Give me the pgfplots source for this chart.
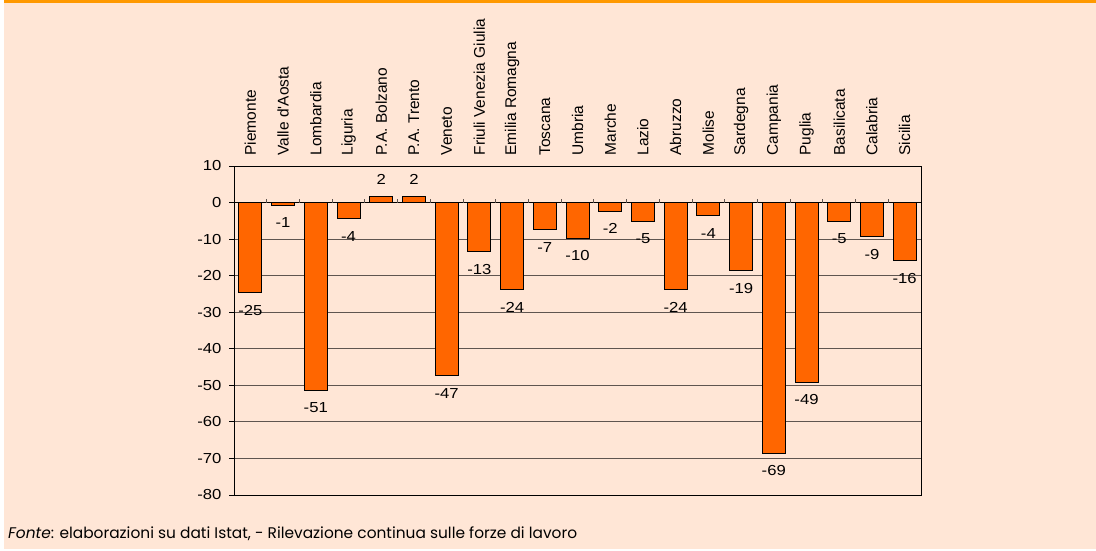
\documentclass[border=0pt]{standalone}
\usepackage{pgfplots}
\pgfplotsset{compat=1.18}
\usepackage{pgfplotstable}
\usepackage{fontspec}
\setmainfont{Liberation Sans}
\newfontfamily\numfont[FakeStretch=1.15]{Liberation Sans}
\newfontfamily\footfont{Poppins}

\definecolor{bgpeach}{RGB}{255,230,214}
\definecolor{barorange}{RGB}{255,102,0}
\definecolor{topband}{RGB}{255,153,0}
\definecolor{gridgray}{RGB}{95,85,80}

% bar heights (labels on the chart are these rounded to units)
\pgfplotstableread{
idx value
0  -24.6
1  -0.8
2  -51.3
3  -4.4
4   1.6
5   1.6
6  -47.4
7  -13.4
8  -23.9
9  -7.4
10 -9.8
11 -2.4
12 -5.2
13 -23.9
14 -3.6
15 -18.7
16 -68.6
17 -49.2
18 -5.2
19 -9.3
20 -15.9
}\regioni

\begin{document}
\begin{tikzpicture}
    \useasboundingbox (0,0) rectangle (1096pt,551pt);
    \fill[white] (0,0) rectangle (1096pt,551pt);
    \fill[bgpeach] (4pt,2pt) rectangle (1096pt,551pt);
    \fill[topband] (4pt,548pt) rectangle (1096pt,551pt);

    \begin{axis}[
        at={(234pt,56pt)}, anchor=south west,
        scale only axis,
        width=687pt, height=329pt,
        ybar, bar width=23pt,
        xmin=-0.5, xmax=20.5,
        ymin=-80, ymax=10,
        xtick=data,
        xticklabels={Piemonte, Valle d\textquotesingle Aosta, Lombardia, Liguria, P.A. Bolzano, P.A. Trento, Veneto, Friuli Venezia Giulia, Emilia Romagna, Toscana, Umbria, Marche, Lazio, Abruzzo, Molise, Sardegna, Campania, Puglia, Basilicata, Calabria, Sicilia},
        xticklabel pos=upper,
        xticklabel shift=2pt,
        xticklabel style={rotate=90, anchor=west, font=\fontsize{15.5}{16}\selectfont},
        xtick style={draw=none},
        ytick={-80,-70,...,10},
        yticklabels={-80,-70,-60,-50,-40,-30,-20,-10,0,10},
        yticklabel style={font=\numfont\fontsize{14.5}{15}\selectfont, xshift=-4pt},
        ytick pos=left,
        tick align=outside,
        major tick length=5pt,
        ytick style={black, line width=0.8pt},
        ymajorgrids,
        grid style={gridgray, line width=0.8pt},
        axis line style={black, line width=0.9pt},
    ]
        % zero line with category separators
        \draw[black, line width=1pt] (axis cs:-0.5,0) -- (axis cs:20.5,0);
        \pgfplotsinvokeforeach{0,...,19}{
            \draw[gridgray, line width=0.8pt] (axis cs:#1+0.5,0) -- ++(0pt,4pt);
        }
        \addplot[fill=barorange, draw=black, line width=0.9pt,
            point meta=y,
            nodes near coords={\pgfmathprintnumber[fixed, precision=0, assume math mode=true]{\pgfplotspointmeta}},
            nodes near coords align=vertical,
            every node near coord/.append style={font=\numfont\fontsize{14.5}{15}\selectfont, inner xsep=0pt, inner ysep=12pt, black},
        ]
            table[x=idx, y=value] {\regioni};
    \end{axis}

    \node[anchor=base west, inner sep=0pt] at (8pt,12pt)
        {\footfont\fontsize{15.4}{16}\selectfont\textit{Fonte}: elaborazioni su dati Istat, - Rilevazione continua sulle forze di lavoro};
\end{tikzpicture}
\end{document}
